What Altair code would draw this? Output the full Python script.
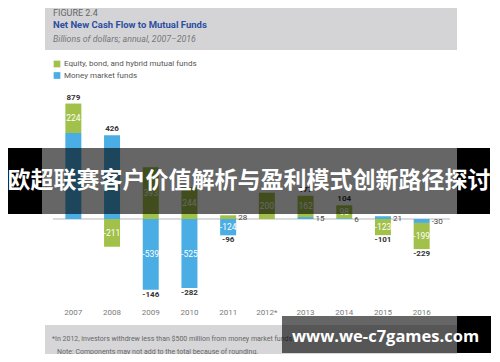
import altair as alt
import pandas as pd

# ---------------- data ----------------
years = ["2007", "2008", "2009", "2010", "2011", "2012*", "2013", "2014", "2015", "2016"]
equity = [224, -211, 393, 244, 28, 200, 162, 98, -123, -199]
money = [654, 637, -539, -525, -124, 0, 15, 6, 21, -30]
totals = [879, 426, -146, -282, -96, 200, 177, 104, -101, -229]
series_names = ["Equity, bond, and hybrid mutual funds", "Money market funds"]
series_colors = ["#a2c14a", "#4aade3"]
# segments whose value label sits beside the bar: (year, series index)
beside = {("2011", 0), ("2013", 1), ("2014", 1), ("2015", 1), ("2016", 1)}
# labels that the banner hides completely in the reference
hidden_segments = {("2007", 1), ("2008", 1)}
hidden_totals = {"2012*"}

FONT = "Roboto, sans-serif"
CJK = "'Noto Sans CJK SC', sans-serif"

# ---------------- tables ----------------
seg_rows, tot_rows = [], []
for i, yr in enumerate(years):
    pos, neg = 0, 0
    for s_idx, vals in ((1, money), (0, equity)):
        v = vals[i]
        if v == 0:
            continue
        if v > 0:
            start, end = pos, pos + v
            pos = end
        else:
            start, end = neg, neg + v
            neg = end
        seg_rows.append(dict(year=yr, series=series_names[s_idx], start=start, end=end,
                             mid=(start + end) / 2, label=str(v),
                             beside=(yr, s_idx) in beside,
                             hidden=(yr, s_idx) in hidden_segments))
    t = totals[i]
    tot_rows.append(dict(year=yr, label=str(t), anchor=pos if t > 0 else neg, positive=t > 0,
                         hidden=yr in hidden_totals))

seg = pd.DataFrame(seg_rows)
tot = pd.DataFrame(tot_rows)
one = pd.DataFrame({"k": [0]})

xscale = alt.Scale(domain=years, paddingInner=0.587, paddingOuter=0.2935)
xaxis = alt.Axis(title=None, labelAngle=0, ticks=False, tickSize=0, domain=False, grid=False,
                 labelPadding=8, labelFontSize=8, labelColor="#7a7a7a", labelFont=FONT)
yscale = alt.Scale(domain=[-616, 981], nice=False, zero=False)
X = alt.X("year:N", scale=xscale, axis=xaxis)


def rect(x, x2, y, y2, color, opacity=1.0):
    return alt.Chart(one).mark_rect(color=color, opacity=opacity).encode(
        x=alt.value(x), x2=alt.value(x2), y=alt.value(y), y2=alt.value(y2))


def note(text, x, y, **kw):
    return alt.Chart(one).mark_text(text=text, **kw).encode(x=alt.value(x), y=alt.value(y))


header = rect(-9, 403, -90, -40, "#d4d4d7")
fig_lbl = note("FIGURE 2.4", -1, -81.5, align="left", baseline="top", fontSize=9, font=FONT, color="#666666")
title = note("Net New Cash Flow to Mutual Funds", -1, -65.5, align="left", baseline="middle",
             fontSize=9.5, fontWeight="bold", font=FONT, color="#2b4ea0")
subtitle = note("Billions of dollars; annual, 2007–2016", -1, -51.5, align="left", baseline="middle",
                fontSize=8.8, fontStyle="italic", font=FONT, color="#777777")

zero = alt.Chart(one).mark_rule(color="#b8b8b8", strokeWidth=1).encode(
    y=alt.Y(datum=0, scale=yscale, axis=None), x=alt.value(-1), x2=alt.value(396))

bars = alt.Chart(seg).mark_bar().encode(
    x=X,
    y=alt.Y("start:Q", scale=yscale, axis=None),
    y2="end:Q",
    color=alt.Color("series:N", scale=alt.Scale(domain=series_names, range=series_colors),
                    legend=alt.Legend(orient="none", legendX=-1, legendY=-30, title=None,
                                      symbolType="square", symbolSize=45, symbolStrokeWidth=0,
                                      labelFontSize=8, labelColor="#555555", labelFont=FONT,
                                      rowPadding=3.5, padding=0, labelOffset=3)),
)

vis_seg = seg[~seg["hidden"]]
inside = alt.Chart(vis_seg[~vis_seg["beside"]]).mark_text(color="white", fontSize=8.5, font=FONT).encode(
    x=X, y=alt.Y("mid:Q", scale=yscale, axis=None), text="label:N")
side = alt.Chart(vis_seg[vis_seg["beside"]]).mark_text(color="#444444", fontSize=8, font=FONT,
                                                       align="left", dx=10, dy=1).encode(
    x=X, y=alt.Y("mid:Q", scale=yscale, axis=None), text="label:N")
vis_tot = tot[~tot["hidden"]]
tot_up = alt.Chart(vis_tot[vis_tot["positive"]]).mark_text(color="#333333", fontSize=8, font=FONT,
                                                          fontWeight="bold", baseline="bottom", dy=-2).encode(
    x=X, y=alt.Y("anchor:Q", scale=yscale, axis=None), text="label:N")
tot_dn = alt.Chart(vis_tot[~vis_tot["positive"]]).mark_text(color="#333333", fontSize=8, font=FONT,
                                                           fontWeight="bold", baseline="top", dy=1).encode(
    x=X, y=alt.Y("anchor:Q", scale=yscale, axis=None), text="label:N")

footer = rect(-9, 403, 235, 275, "#d6d6d8")
foot1 = note("*In 2012, investors withdrew less than $500 million from money market funds.", -2, 249,
             align="left", baseline="middle", fontSize=7, font=FONT, color="#666666")
foot2 = note("Note: Components may not add to the total because of rounding.", 3, 261.5,
             align="left", baseline="middle", fontSize=7, font=FONT, color="#666666")

banner_l = rect(-46, -12, 58, 124, "black")
banner_m = rect(-12, 403, 58, 124, "black", 0.6)
banner_r = rect(403, 436, 58, 124, "black")
banner_t = note("欧超联赛客户价值解析与盈利模式创新路径探讨", 195, 91, align="center", baseline="middle",
                fontSize=23, fontWeight="bold", font=CJK, color="white")

wm_m = rect(228, 403, 226, 263, "black", 0.6)
wm_r = rect(403, 437, 226, 263, "black")
wm_t = note("www.we-c7games.com", 331.5, 246.5, align="center", baseline="middle",
            fontSize=16.5, fontWeight="bold", font="'Open Sans', sans-serif", color="white")

chart = alt.layer(
    header, fig_lbl, title, subtitle,
    zero, bars, inside, side, tot_up, tot_dn,
    footer, foot1, foot2,
    banner_l, banner_m, banner_r, banner_t,
    wm_m, wm_r, wm_t,
).properties(
    width=387, height=210,
    padding={"left": 46, "top": 82, "right": 51, "bottom": 54},
    autosize=alt.AutoSizeParams(type="none"),
).configure_view(stroke=None)

chart.save("out.html", embed_options={"renderer": "svg", "actions": False})
